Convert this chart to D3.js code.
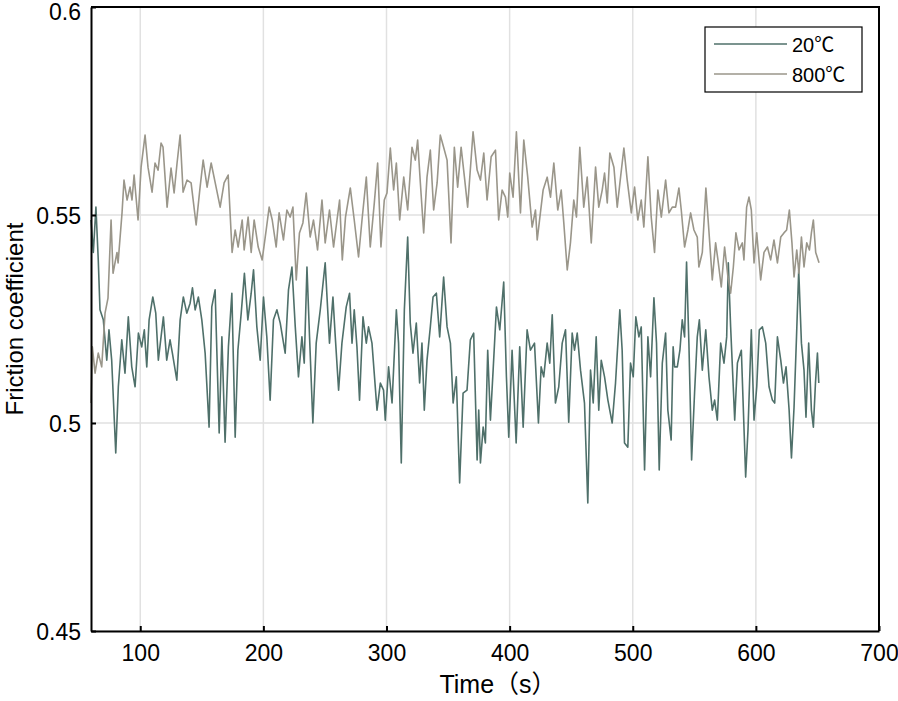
<!DOCTYPE html>
<html>
<head>
<meta charset="utf-8">
<script src="https://cdn.jsdelivr.net/npm/d3@7"></script>
<style>
  body { margin: 0; background: #fff; }
  text { font-family: Arial, "Liberation Sans", "Noto Sans CJK SC", sans-serif; fill: #000; }
</style>
</head>
<body>
<div id="chart"></div>
<script>
const xTicks = [100, 200, 300, 400, 500, 600, 700]
const yTicks = [0.45, 0.5, 0.55, 0.6]
const seriesNames = ["20℃", "800℃"]
const seriesColors = ["#4f706a", "#9a968a"]

const time20 = [60,61.9,64,65.9,67.3,70,72.8,74.6,76.8,80.1,82.2,85,87.6,90.3,93.1,95.8,98.5,101.2,103.3,105.3,107.2,110.2,112.6,114.7,118.8,121.5,124.2,126.1,129.7,132.4,135,137.8,140.5,142.4,144.6,147.2,150,152.7,155.9,158.1,160.8,164.1,166.3,168.9,171.6,174.4,177.1,179.3,182,184.6,187.4,190.1,192,194.7,197.4,200.1,202.8,205.5,208.2,211,213.7,217.7,220.4,223.2,225.9,228.5,231.3,233.2,235.4,237.5,240.2,242.9,246.2,250.2,253.7,256.5,258.4,261.1,263.8,267.3,270,272,273.8,276,278.1,280.9,283.6,285.4,288.2,292.3,295,297.6,299,301.7,304.5,308,309.8,312,314.5,317.2,319.3,321.5,324.2,326.9,328.8,330.7,332.9,335.6,337.8,340.5,343.2,346.4,349.2,351.9,354.1,356.7,359.4,362.2,365.4,368.1,370.8,373.6,374.9,376.3,378.5,380.3,382.2,384.4,386.6,389.3,392,395.2,397.4,399.3,402,405.3,408.2,411,414.2,416.9,420.2,423.4,425.6,427.7,430.5,432.6,434.6,437.2,439.9,442.7,445.4,448,450.8,452.7,454.9,457.6,460.8,463.5,465.7,467.9,470.3,472.4,474.4,477.1,479.8,483.3,486,489.5,491.4,493.3,496,498.2,500.4,502.5,505,506.9,509.6,512.3,514.5,517.2,519.3,521.5,524,526.7,528.5,531.2,532.8,534,536.2,538.3,540.2,542.1,543.7,545.6,547.8,550.2,552.4,554.1,556.5,559.3,561.9,564.6,566.5,568.7,571.4,574.1,576.3,577.6,579.5,582.8,585,588.2,591.7,593.6,596.3,598.5,600.7,602.8,605.3,608,610.7,613.4,615.3,617.5,620.2,622.4,624.5,627,628.9,631,633,634.8,637,639.1,640.7,642.9,645.1,646.7,648.4,650,651.1]
const fric20 = [0.5488,0.541,0.5519,0.5392,0.5272,0.5248,0.5151,0.5224,0.5151,0.4928,0.5087,0.52,0.512,0.5255,0.5135,0.5087,0.5216,0.5183,0.5224,0.5135,0.5248,0.5303,0.5264,0.5151,0.5255,0.5151,0.52,0.5168,0.5103,0.5248,0.5303,0.5264,0.5288,0.5325,0.5272,0.5303,0.5248,0.5168,0.499,0.5279,0.532,0.4976,0.5207,0.4954,0.5183,0.5312,0.4966,0.5175,0.5264,0.536,0.5248,0.5312,0.5368,0.5231,0.5151,0.5303,0.5207,0.5055,0.5248,0.5272,0.524,0.5168,0.532,0.5375,0.5231,0.5111,0.5207,0.5144,0.5375,0.5207,0.5,0.5192,0.5272,0.5385,0.5192,0.5303,0.5207,0.5079,0.5192,0.5279,0.5312,0.5192,0.5272,0.5183,0.5055,0.5255,0.5192,0.5231,0.5192,0.5031,0.5096,0.5079,0.5007,0.5135,0.5048,0.5272,0.5192,0.4904,0.5272,0.5447,0.524,0.5168,0.524,0.5096,0.5192,0.5031,0.5151,0.5231,0.5303,0.5312,0.5207,0.5351,0.5231,0.5192,0.5048,0.5111,0.4856,0.5072,0.5079,0.52,0.5216,0.4911,0.5031,0.4904,0.499,0.4952,0.5175,0.5007,0.5127,0.5279,0.5224,0.5339,0.5111,0.4966,0.5175,0.4952,0.5183,0.499,0.5224,0.5175,0.5192,0.5,0.5135,0.5111,0.5192,0.5144,0.526,0.5048,0.5087,0.5192,0.5224,0.5002,0.5216,0.5175,0.5216,0.5127,0.5048,0.4808,0.5127,0.5048,0.5207,0.5031,0.5151,0.5111,0.5055,0.5,0.5096,0.5272,0.5175,0.4952,0.4942,0.5144,0.5111,0.5255,0.5207,0.5231,0.4887,0.5207,0.5111,0.5301,0.5192,0.4887,0.5144,0.5216,0.5031,0.4959,0.5183,0.5135,0.5135,0.5175,0.5248,0.5207,0.5387,0.5192,0.4911,0.5072,0.5207,0.5248,0.5127,0.5224,0.5111,0.5031,0.5055,0.5007,0.5192,0.5144,0.5207,0.5385,0.5231,0.5007,0.5144,0.5175,0.487,0.4983,0.5224,0.5007,0.5087,0.5224,0.5231,0.5192,0.5087,0.5055,0.5048,0.5207,0.5151,0.5096,0.5135,0.5031,0.4916,0.5038,0.5207,0.5368,0.5192,0.5127,0.5014,0.5192,0.5031,0.499,0.5096,0.5168,0.5096]

const time800 = [60,61.1,63.3,65.9,68.7,71.4,73.8,76.3,77.9,81.1,82,85.2,86.8,89.3,91.7,93.3,95,98.2,100.7,103.9,106.3,109.6,112,114.5,116.9,118.5,121.8,125,127.5,129.9,132.4,134.8,138,141.3,145.4,148.6,151.1,154.3,157.6,161.6,164.9,168.1,171.4,174.6,177.1,179.5,182.8,184.4,187.6,190.1,192.5,195.8,199,202.3,204.7,207.2,210.4,212.8,216.3,219.1,221.8,224,226.7,229.3,232.1,234.8,238,240.7,244,247.6,250.2,253.7,257,259.8,261.9,264.1,266.7,270.6,273.8,277.3,280.1,283.6,286.8,290.1,292.8,295.5,298.2,300.4,303.1,305.8,308,310.7,314,317.2,320.7,323.4,325.3,327.5,330.2,332.9,335.6,338.3,341.1,343.7,346.4,349.2,352.4,355.1,357.8,360.6,363.3,365.9,370.3,373.6,376.3,379,381.7,385,388.5,391.1,393.9,396.6,398.5,400.1,402.8,405.5,408.8,411.5,414.7,418.3,421,422.4,425,427.2,430.5,433.2,435.9,439.1,441.9,444,446.8,449.4,452.1,454.3,457,460.2,463,466.3,469.8,472.4,475.2,477.1,479.3,481.4,484.7,487.4,490.1,492.8,495.5,498.8,501.5,504.1,506.9,509,512.3,515,517.7,520.4,523.2,526.7,529.4,532.1,534.8,537.5,539.4,542.1,544.8,547,549.7,552.4,553.7,556.5,559.4,561.8,564.6,567.3,569.2,571.9,574.6,577.3,579.5,581.7,583.8,586.3,589,590.3,592.5,594.4,596.3,598.5,600.7,603.9,606.6,609.4,612,614.7,617.5,620.2,622.8,625,627.2,629.3,631,633.2,635,637,639.1,641.3,643.5,645.1,646.7,648.6,651.3]
const fric800 = [0.5048,0.5183,0.512,0.5168,0.5135,0.5264,0.53,0.5488,0.536,0.541,0.5385,0.5505,0.5584,0.5536,0.5567,0.5536,0.5596,0.5488,0.5615,0.5692,0.5615,0.5555,0.5625,0.5608,0.5673,0.5663,0.5519,0.5613,0.5553,0.5625,0.5692,0.5555,0.5584,0.5577,0.5476,0.5567,0.5632,0.5567,0.5625,0.5567,0.5519,0.5577,0.5596,0.541,0.5464,0.5423,0.5488,0.5416,0.5495,0.541,0.5488,0.5423,0.5392,0.5464,0.5519,0.5488,0.5423,0.5505,0.544,0.5512,0.5495,0.5519,0.5344,0.5457,0.5481,0.5553,0.5447,0.5488,0.5416,0.5536,0.5433,0.5512,0.5423,0.5488,0.5536,0.5392,0.5495,0.5565,0.5488,0.5399,0.5488,0.5591,0.5423,0.5529,0.5625,0.5423,0.5536,0.5553,0.5661,0.556,0.5625,0.5488,0.5591,0.5512,0.5663,0.5632,0.568,0.5577,0.5457,0.5591,0.5656,0.5512,0.5577,0.5692,0.5663,0.5632,0.5433,0.5663,0.5567,0.5663,0.5591,0.5519,0.57,0.5608,0.5584,0.5649,0.5536,0.564,0.5656,0.5488,0.556,0.5543,0.5495,0.5601,0.5543,0.57,0.5505,0.568,0.5591,0.5471,0.5512,0.544,0.5505,0.556,0.5591,0.5543,0.5625,0.5512,0.556,0.5481,0.5368,0.5433,0.5536,0.5495,0.5663,0.5519,0.5591,0.5433,0.5615,0.5519,0.556,0.5601,0.5529,0.5649,0.5615,0.5519,0.5591,0.5661,0.5584,0.5505,0.5567,0.5488,0.5536,0.5471,0.564,0.5495,0.541,0.556,0.5495,0.5584,0.5505,0.5519,0.5519,0.5565,0.5512,0.5423,0.5464,0.5505,0.5464,0.5447,0.5375,0.541,0.5565,0.5464,0.5344,0.5433,0.5392,0.5327,0.5423,0.5351,0.5312,0.5375,0.5457,0.5416,0.5433,0.5392,0.5519,0.5543,0.5512,0.5385,0.5457,0.5344,0.541,0.5423,0.5392,0.544,0.5385,0.5447,0.5457,0.5464,0.5512,0.5433,0.5351,0.5416,0.536,0.5447,0.5375,0.5433,0.5416,0.5457,0.5488,0.541,0.5385]

const width = 898
const height = 701
const margin = { top: 7, right: 19, bottom: 70, left: 91 }

const svg = d3.select("#chart")
  .append("svg")
  .attr("width", width)
  .attr("height", height)

const x = d3.scaleLinear()
  .domain([60, 700])
  .range([margin.left, width - margin.right])

const y = d3.scaleLinear()
  .domain([0.45, 0.6])
  .range([height - margin.bottom, margin.top])

// grid
svg.append("g")
  .selectAll("line")
  .data(xTicks)
  .join("line")
  .attr("x1", d => x(d)).attr("x2", d => x(d))
  .attr("y1", y(0.45)).attr("y2", y(0.6))
  .attr("stroke", "#e1e1e1")
  .attr("stroke-width", 1.5)

svg.append("g")
  .selectAll("line")
  .data(yTicks)
  .join("line")
  .attr("x1", x(60)).attr("x2", x(700))
  .attr("y1", d => y(d)).attr("y2", d => y(d))
  .attr("stroke", "#e1e1e1")
  .attr("stroke-width", 1.5)

// lines
const series = [
  time20.map((t, i) => [t, fric20[i]]),
  time800.map((t, i) => [t, fric800[i]])
]

const line = d3.line()
  .x(d => x(d[0]))
  .y(d => y(d[1]))

svg.append("g")
  .selectAll("path")
  .data(series)
  .join("path")
  .attr("d", line)
  .attr("fill", "none")
  .attr("stroke", (d, i) => seriesColors[i])
  .attr("stroke-width", 1.6)
  .attr("stroke-linejoin", "round")

// axes
const xAxis = svg.append("g")
  .attr("transform", `translate(0,${y(0.45)})`)
  .call(d3.axisBottom(x).tickValues(xTicks).tickSizeInner(-5).tickSizeOuter(0).tickPadding(14))

const yAxis = svg.append("g")
  .attr("transform", `translate(${x(60)},0)`)
  .call(d3.axisLeft(y).tickValues(yTicks).tickFormat(d3.format("")).tickSizeInner(-5).tickSizeOuter(0).tickPadding(10))

for (const ax of [xAxis, yAxis]) {
  ax.attr("font-family", null).attr("font-size", null)
  ax.select(".domain").attr("stroke", "#000").attr("stroke-width", 2)
  ax.selectAll(".tick line").attr("stroke", "#000").attr("stroke-width", 2)
  ax.selectAll(".tick text")
    .attr("fill", "#000")
    .style("font-size", "23px")
}
// keep the top label inside the page
yAxis.selectAll(".tick text").attr("dy", d => d === 0.6 ? "0.55em" : "0.36em")

// box top/right
svg.append("path")
  .attr("d", `M${x(60)},${y(0.6)}H${x(700)}V${y(0.45)}`)
  .attr("fill", "none")
  .attr("stroke", "#000")
  .attr("stroke-width", 2)

// axis labels
svg.append("text")
  .attr("x", 498)
  .attr("y", 693)
  .attr("text-anchor", "middle")
  .style("font-size", "25px")
  .text("Time（s）")

svg.append("text")
  .attr("transform", `translate(23,${y(0.525)}) rotate(-90)`)
  .attr("text-anchor", "middle")
  .style("font-size", "24px")
  .text("Friction coefficient")

// legend
const legend = svg.append("g")
legend.append("rect")
  .attr("x", 705).attr("y", 27)
  .attr("width", 157).attr("height", 65)
  .attr("fill", "#fff")
  .attr("stroke", "#000")
  .attr("stroke-width", 1.2)

const item = legend.selectAll("g.item")
  .data(seriesNames)
  .join("g")
  .attr("class", "item")
  .attr("transform", (d, i) => `translate(0,${44 + i * 30})`)

item.append("line")
  .attr("x1", 714).attr("x2", 787)
  .attr("stroke", (d, i) => seriesColors[i])
  .attr("stroke-width", 1.5)

item.append("text")
  .attr("x", 792)
  .attr("y", 8)
  .style("font-size", "20px")
  .text(d => d)
</script>
</body>
</html>
